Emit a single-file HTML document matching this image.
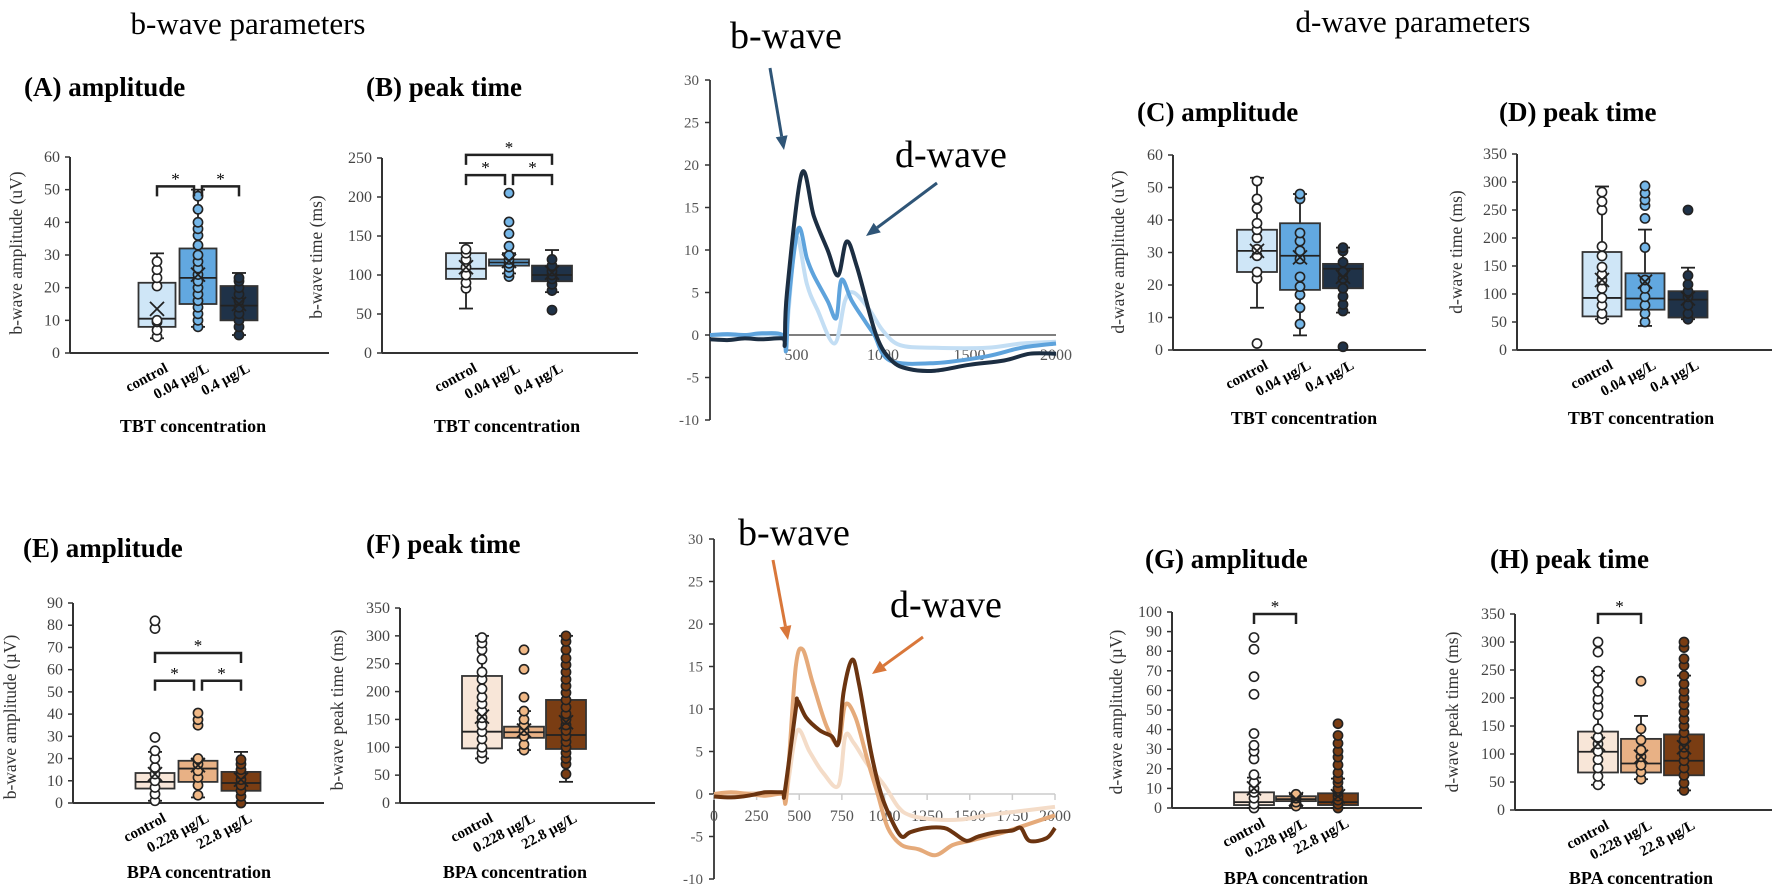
<!DOCTYPE html>
<html><head><meta charset="utf-8">
<style>
html,body{margin:0;padding:0;background:#fff;}
svg{display:block;font-family:"Liberation Serif",serif;}
</style></head>
<body>
<svg id="fig" width="1772" height="888" viewBox="0 0 1772 888" xmlns="http://www.w3.org/2000/svg">
<text x="248" y="34" font-size="31" text-anchor="middle">b-wave parameters</text>
<text x="1413" y="32" font-size="31" text-anchor="middle">d-wave parameters</text>
</svg>
<script>
// ---------- Box panel data ----------
// each row: [whiskerMin, q1, median, q3, whiskerMax]
const aBox = [[4.5,8,10.5,21.5,30.5],[8,15,23,32,50],[5.5,10,14.5,20.5,24.5]];
const aMean = [13.5,24,15];
const aPts = [[5,7,9.5,10,20.5,23,25.5,28],[8,10,12,14,16,18,20,22,24,26,28,30,33,36,38,40,44,48],[5.5,8,10,12,14,16,18,20,22,23]];
const bBox = [[57,95,108,128,141],[102,112,116,120,128],[78,92,100,112,132]];
const bMean = [110,118,103];
const bPts = [[83,90,100,110,120,128,133],[98,103,110,115,120,125,137,153,168,205],[55,80,88,95,100,105,112,120]];
const cBox = [[13,24,30.5,37,53],[4.5,18.5,29,39,48],[11.5,19,25,26.5,31.5]];
const cMean = [30.5,28.5,22.5];
const cPts = [[2,22,24,29,31,34.5,37,39,43.5,46.5,52],[8,13,17,19.5,22.5,28,30.5,33.5,36,46.5,48],[1,12,14,16.5,19,22,24,27,30.5,31.5]];
const dBox = [[55,60,93,175,292],[43,72,92,137,215],[55,58,90,105,147]];
const dMean = [125,122,92];
const dPts = [[55,65,80,93,110,125,135,148,168,185,250,265,282],[50,65,80,95,110,125,183,235,258,268,280,293],[55,65,80,95,105,117,133,250]];
const eBox = [[1,6.5,9.5,13.5,23],[2.5,9.5,15.5,19,20],[0,5.5,9,14,23]];
const eMean = [13,17,10.5];
const ePts = [[1,4,7,10,13,16,20,23.5,29.5,78.5,82],[3.5,8,11.5,14.5,17.5,20,35,37.5,40.5],[0,3,5.5,8,10.5,13,15,17.5,19.5]];
const fBox = [[80,98,128,228,300],[95,117,127,137,165],[38,97,122,185,300]];
const fMean = [155,130,145];
const fPts = [[80,90,100,115,128,140,153,165,178,190,205,222,235,258,275,287,297],[95,105,120,130,140,150,165,190,240,275],[52,70,80,90,100,110,120,130,140,150,160,172,185,198,210,222,235,248,260,275,290,300]];
const gBox = [[0,1.5,3,8,15.5],[1,3.5,4.5,6,7],[0,1.5,3,7.5,15]];
const gMean = [10,4.5,6];
const gPts = [[0,2,5,8,10,13,17,25,29,32,38,58,67,81,87],[1,3,5,6,7],[0,2,4,6,8,10,13,15,18,22,26,29,33,37,43]];
const hBox = [[45,67,104,140,248],[55,67,83,127,168],[35,62,88,135,240]];
const hMean = [118,95,112];
const hPts = [[45,60,75,90,105,118,130,145,170,185,198,212,235,248,282,300],[55,68,80,95,107,125,145,230],[35,48,62,75,88,100,112,125,138,150,162,175,188,200,212,225,240,258,270,290,300]];
const tbtCats = ["control","0.04 µg/L","0.4 µg/L"];
const bpaCats = ["control","0.228 µg/L","22.8 µg/L"];
const aBrackets = [[0,1,51],[1,2,51]];
const bBrackets = [[0,2,254],[0,1,228],[1,2,228]];
const eBrackets = [[0,2,67.5],[0,1,55],[1,2,55]];
const gBrackets = [[0,1,99]];
const hBrackets = [[0,1,350]];

// ---------- Trace data ----------
const topDarkT = [0,100,200,300,420,432,445,530,600,680,740,790,850,960,1050,1150,1300,1500,1700,1850,2000];
const topDarkV = [-0.5,-0.6,-0.4,-0.5,-0.4,-1,5,19,14,10,7,11,8,0,-3,-4,-4.2,-3.5,-3,-2.2,-2.2];
const topMidT = [0,100,200,300,420,440,455,510,560,600,680,730,760,820,900,950,1040,1300,1600,1800,2000];
const topMidV = [0,0.1,0,0.2,0,-1.8,4,12.5,9,7,4,2,6.5,4,1.5,0,-3,-3.3,-2.5,-1.5,-1];
const topLightT = [0,200,420,440,455,500,560,620,720,780,830,920,1000,1100,1300,1600,1800,2000];
const topLightV = [0,0,0,-1,3,11.5,6,3,-1,4,5,3,0.5,-1.2,-1.5,-1.5,-1,-0.8];
const botDarkT = [0,100,200,300,400,415,480,490,540,620,690,730,760,810,850,920,980,1040,1100,1150,1250,1350,1400,1480,1550,1650,1750,1800,1850,1950,2000];
const botDarkV = [-0.3,-0.4,-0.2,0.2,0.2,0.3,10,11,9,7.5,6.8,6,12,15.8,13,5,0,-3,-5,-4.5,-4,-4,-4.5,-5.5,-5,-4.5,-4.3,-4,-5.5,-5.2,-4];
const botMidT = [0,100,200,300,400,420,440,480,520,580,660,730,770,830,900,960,1020,1100,1200,1300,1400,1500,1600,1700,1850,2000];
const botMidV = [0,0.2,0,-0.2,0,-1,4,15,17,13,8,6,10.5,9,4,0,-4,-6,-6.5,-7.2,-6,-5.5,-5,-4.5,-3.5,-2.5];
const botLightT = [0,200,400,420,440,490,560,640,730,770,820,900,1000,1080,1150,1300,1450,1600,1800,2000];
const botLightV = [0,0.1,0,-1,2,7.5,5,2.5,1,6.8,6,3.5,1,-1.5,-2.5,-3,-3,-2.5,-2,-1.5];
const topXTicks = [500,1000,1500,2000];
const botXTicks = [0,250,500,750,1000,1250,1500,1750,2000];
const yTicksTrace = [30,25,20,15,10,5,0,-5,-10];

const NS = "http://www.w3.org/2000/svg";
const svg = document.getElementById('fig');
function mk(tag, attrs, parent){
  const e = document.createElementNS(NS, tag);
  for (const k in attrs) e.setAttribute(k, attrs[k]);
  (parent||svg).appendChild(e);
  return e;
}

function boxPanel(p, box, mean, pts, cats, brackets){
  const g = mk('g', {});
  
  
  const ys = v => p.y0 - (v / p.vmax) * (p.y0 - p.yTop);
  const t = mk('text', {x:p.tx, y:p.ty, 'font-size':27, 'font-weight':'bold'}, g);
  t.textContent = p.title;
  
  
  const ya = mk('line', {x1:p.ax, y1:p.yTop, x2:p.ax, y2:p.y0, stroke:'#333', 'stroke-width':2}, g);
  
  
  const xa = mk('line', {x1:p.ax, y1:p.y0, x2:p.xEnd, y2:p.y0, stroke:'#333', 'stroke-width':2}, g);
  
  
  for (let v = 0; v <= p.vmax + 0.001; v += p.step){
    const y = ys(v);
    mk('line', {x1:p.ax-5, y1:y, x2:p.ax, y2:y, stroke:'#333', 'stroke-width':1.5}, g);
    const tl = mk('text', {x:p.ax-10, y:y+5, 'font-size':16, 'text-anchor':'end', fill:'#444'}, g);
    tl.textContent = v;
    
    
  }
  const yl = mk('text', {x:p.ylx, y:p.yly, 'font-size':17.5, 'text-anchor':'middle', fill:'#333', transform:`rotate(-90 ${p.ylx} ${p.yly})`}, g);
  yl.textContent = p.yLabel;
  
  
  for (let i = 0; i < 3; i++){
    const cx = p.cx0 + i * p.dx;
    const [mn, q1, md, q3, mx] = box[i];
    const bg = mk('g', {}, g);
    
    
    mk('line', {x1:cx, y1:ys(mx), x2:cx, y2:ys(mn), stroke:'#222', 'stroke-width':1.8}, bg);
    mk('line', {x1:cx-7, y1:ys(mx), x2:cx+7, y2:ys(mx), stroke:'#222', 'stroke-width':1.8}, bg);
    mk('line', {x1:cx-7, y1:ys(mn), x2:cx+7, y2:ys(mn), stroke:'#222', 'stroke-width':1.8}, bg);
    mk('rect', {x:cx-p.bw/2, y:ys(q3), width:p.bw, height:Math.max(1, ys(q1)-ys(q3)), fill:p.fill[i], stroke:'#333', 'stroke-width':1.8}, bg);
    mk('line', {x1:cx-p.bw/2, y1:ys(md), x2:cx+p.bw/2, y2:ys(md), stroke:'#222', 'stroke-width':1.8}, bg);
    for (const v of pts[i]){
      const c = mk('circle', {cx:cx, cy:ys(v), r:4.6, fill:p.pfill[i], stroke:'#222', 'stroke-width':1.6}, bg);
      
      
    }
    const my = ys(mean[i]);
    mk('path', {d:`M${cx-7} ${my-7}L${cx+7} ${my+7}M${cx-7} ${my+7}L${cx+7} ${my-7}`, stroke:'#222', 'stroke-width':1.8, fill:'none'}, bg);
    const cl = mk('text', {x:cx+12, y:p.y0+18, 'font-size':15, 'font-weight':'bold', 'text-anchor':'end', transform:`rotate(-28 ${cx+12} ${p.y0+18})`}, g);
    cl.textContent = cats[i];
    
    
  }
  const xt = mk('text', {x:p.xtx, y:p.xty, 'font-size':18, 'font-weight':'bold', 'text-anchor':'middle'}, g);
  xt.textContent = p.xTitle;
  
  
  for (const [a, b, v] of brackets){
    const x1 = p.cx0 + a * p.dx, x2 = p.cx0 + b * p.dx - (b - a === 1 && a === 0 && brackets.length > 1 ? 4 : 0);
    const x1b = x1 + (a === 1 ? 4 : 0);
    const y = ys(v);
    const br = mk('path', {d:`M${x1b} ${y+10}V${y}H${x2}V${y+10}`, stroke:'#222', 'stroke-width':2.5, fill:'none'}, g);
    
    
    const st = mk('text', {x:(x1b+x2)/2, y:y-2, 'font-size':17, 'text-anchor':'middle'}, g);
    st.textContent = '*';
    
    
  }
}

const tbtFill = ['#cfe6f7','#62a8e0','#1f3248'];
const tbtPt = ['#ffffff','#74b6e8','#1f3248'];
const bpaFill = ['#f8e6d8','#e8b185','#7a3d13'];
const bpaPt = ['#ffffff','#f0b886','#7a3d13'];

boxPanel({name:'panel-a-b-wave-amplitude', title:'(A) amplitude', tx:24, ty:96, ax:70, y0:353, yTop:157, vmax:60, step:10, xEnd:329, cx0:157, dx:41, bw:37, fill:tbtFill, pfill:tbtPt, yLabel:'b-wave amplitude (uV)', ylx:22, yly:253, xTitle:'TBT concentration', xtx:193, xty:432}, aBox, aMean, aPts, tbtCats, aBrackets);
boxPanel({name:'panel-b-b-wave-peak-time', title:'(B) peak time', tx:366, ty:96, ax:382, y0:353, yTop:158, vmax:250, step:50, xEnd:638, cx0:466, dx:43, bw:40, fill:tbtFill, pfill:tbtPt, yLabel:'b-wave time (ms)', ylx:322, yly:257, xTitle:'TBT concentration', xtx:507, xty:432}, bBox, bMean, bPts, tbtCats, bBrackets);
boxPanel({name:'panel-c-d-wave-amplitude', title:'(C) amplitude', tx:1137, ty:121, ax:1173, y0:350, yTop:155, vmax:60, step:10, xEnd:1426, cx0:1257, dx:43, bw:40, fill:tbtFill, pfill:tbtPt, yLabel:'d-wave amplitude (uV)', ylx:1124, yly:252, xTitle:'TBT concentration', xtx:1304, xty:424}, cBox, cMean, cPts, tbtCats, []);
boxPanel({name:'panel-d-d-wave-peak-time', title:'(D) peak time', tx:1499, ty:121, ax:1517, y0:350, yTop:154, vmax:350, step:50, xEnd:1772, cx0:1602, dx:43, bw:39, fill:tbtFill, pfill:tbtPt, yLabel:'d-wave time (ms)', ylx:1462, yly:252, xTitle:'TBT concentration', xtx:1641, xty:424}, dBox, dMean, dPts, tbtCats, []);
boxPanel({name:'panel-e-b-wave-amplitude', title:'(E) amplitude', tx:23, ty:557, ax:73, y0:803, yTop:603, vmax:90, step:10, xEnd:324, cx0:155, dx:43, bw:39, fill:bpaFill, pfill:bpaPt, yLabel:'b-wave amplitude (µV)', ylx:16, yly:717, xTitle:'BPA concentration', xtx:199, xty:878}, eBox, eMean, ePts, bpaCats, eBrackets);
boxPanel({name:'panel-f-b-wave-peak-time', title:'(F) peak time', tx:366, ty:553, ax:400, y0:803, yTop:608, vmax:350, step:50, xEnd:655, cx0:482, dx:42, bw:40, fill:bpaFill, pfill:bpaPt, yLabel:'b-wave peak time (ms)', ylx:343, yly:710, xTitle:'BPA concentration', xtx:515, xty:878}, fBox, fMean, fPts, bpaCats, []);
boxPanel({name:'panel-g-d-wave-amplitude', title:'(G) amplitude', tx:1145, ty:568, ax:1172, y0:808, yTop:612, vmax:100, step:10, xEnd:1422, cx0:1254, dx:42, bw:40, fill:bpaFill, pfill:bpaPt, yLabel:'d-wave amplitude (µV)', ylx:1122, yly:712, xTitle:'BPA concentration', xtx:1296, xty:884}, gBox, gMean, gPts, bpaCats, gBrackets);
boxPanel({name:'panel-h-d-wave-peak-time', title:'(H) peak time', tx:1490, ty:568, ax:1515, y0:810, yTop:614, vmax:350, step:50, xEnd:1772, cx0:1598, dx:43, bw:40, fill:bpaFill, pfill:bpaPt, yLabel:'d-wave peak time (ms)', ylx:1458, yly:712, xTitle:'BPA concentration', xtx:1641, xty:884}, hBox, hMean, hPts, bpaCats, hBrackets);

function smoothPath(P){
  let d = 'M' + P[0][0].toFixed(1) + ' ' + P[0][1].toFixed(1);
  for (let i = 0; i < P.length - 1; i++){
    const p0 = P[Math.max(0, i-1)], p1 = P[i], p2 = P[i+1], p3 = P[Math.min(P.length-1, i+2)];
    const c1x = p1[0] + (p2[0]-p0[0])/6, c1y = p1[1] + (p2[1]-p0[1])/6;
    const c2x = p2[0] - (p3[0]-p1[0])/6, c2y = p2[1] - (p3[1]-p1[1])/6;
    d += `C${c1x.toFixed(1)} ${c1y.toFixed(1)} ${c2x.toFixed(1)} ${c2y.toFixed(1)} ${p2[0].toFixed(1)} ${p2[1].toFixed(1)}`;
  }
  return d;
}

function tracePanel(p, series, xticks){
  const g = mk('g', {});
  
  
  const xs = t => p.ax + (t / 2000) * (p.x2000 - p.ax);
  const ys = v => p.y0 - v * p.ppu;
  const ya = mk('line', {x1:p.ax, y1:ys(30), x2:p.ax, y2:ys(-10), stroke:'#333', 'stroke-width':1.8}, g);
  
  
  for (const v of yTicksTrace){
    mk('line', {x1:p.ax-5, y1:ys(v), x2:p.ax, y2:ys(v), stroke:'#333', 'stroke-width':1.5}, g);
    const tl = mk('text', {x:p.ax-11, y:ys(v)+5, 'font-size':15, 'text-anchor':'end', fill:'#555'}, g);
    tl.textContent = v;
    
    
  }
  const xa = mk('line', {x1:p.ax, y1:ys(0), x2:xs(2000), y2:ys(0), stroke:p.xaxisColor, 'stroke-width':1.5}, g);
  
  
  for (const t of xticks){
    if (p.xTickMarks) mk('line', {x1:xs(t), y1:ys(0), x2:xs(t), y2:ys(0)+6, stroke:'#ccc', 'stroke-width':1.5}, g);
    const tl = mk('text', {x:xs(t), y:ys(0)+p.lblDy, 'font-size':16, 'text-anchor':'middle', fill:'#555'}, g);
    tl.textContent = t;
    
    
  }
  for (const s of series){
    const P = s.t.map((t, i) => [xs(t), ys(s.v[i])]);
    const pth = mk('path', {d:smoothPath(P), stroke:s.color, 'stroke-width':4, fill:'none', 'stroke-linejoin':'round'}, g);
    
    
  }
  for (const a of p.ann){
    const tx = mk('text', {x:a.x, y:a.y, 'font-size':38}, g);
    tx.textContent = a.text;
    
    
    const [x1, y1, x2, y2] = a.arrow;
    const ang = Math.atan2(y2-y1, x2-x1);
    const hl = 14, hw = 6;
    const bx = x2 - hl*Math.cos(ang), by = y2 - hl*Math.sin(ang);
    const ln = mk('line', {x1:x1, y1:y1, x2:bx, y2:by, stroke:p.arrowColor, 'stroke-width':3}, g);
    
    
    mk('polygon', {points:`${x2},${y2} ${bx - hw*Math.sin(ang)},${by + hw*Math.cos(ang)} ${bx + hw*Math.sin(ang)},${by - hw*Math.cos(ang)}`, fill:p.arrowColor}, g);
  }
}

tracePanel({name:'tbt-erg-trace-chart', ax:710, x2000:1056, y0:335, ppu:8.5, xaxisColor:'#555', xTickMarks:false, lblDy:25, arrowColor:'#2f5577',
  ann:[{text:'b-wave', x:730, y:48, arrow:[770,68,784,150]},{text:'d-wave', x:895, y:167, arrow:[937,183,866,236]}]},
  [{name:'trace-control', t:topLightT, v:topLightV, color:'#c3def4'},
   {name:'trace-0.04', t:topMidT, v:topMidV, color:'#5ea3dc'},
   {name:'trace-0.4', t:topDarkT, v:topDarkV, color:'#1c2e42'}], topXTicks);

tracePanel({name:'bpa-erg-trace-chart', ax:714, x2000:1055, y0:794, ppu:8.5, xaxisColor:'#ccc', xTickMarks:true, lblDy:27, arrowColor:'#d9773a',
  ann:[{text:'b-wave', x:738, y:545, arrow:[773,560,788,640]},{text:'d-wave', x:890, y:617, arrow:[923,637,872,674]}]},
  [{name:'trace-control', t:botLightT, v:botLightV, color:'#f4dcc8'},
   {name:'trace-0.228', t:botMidT, v:botMidV, color:'#e5aa7a'},
   {name:'trace-22.8', t:botDarkT, v:botDarkV, color:'#6b3410'}], botXTicks);
</script>
</body></html>
